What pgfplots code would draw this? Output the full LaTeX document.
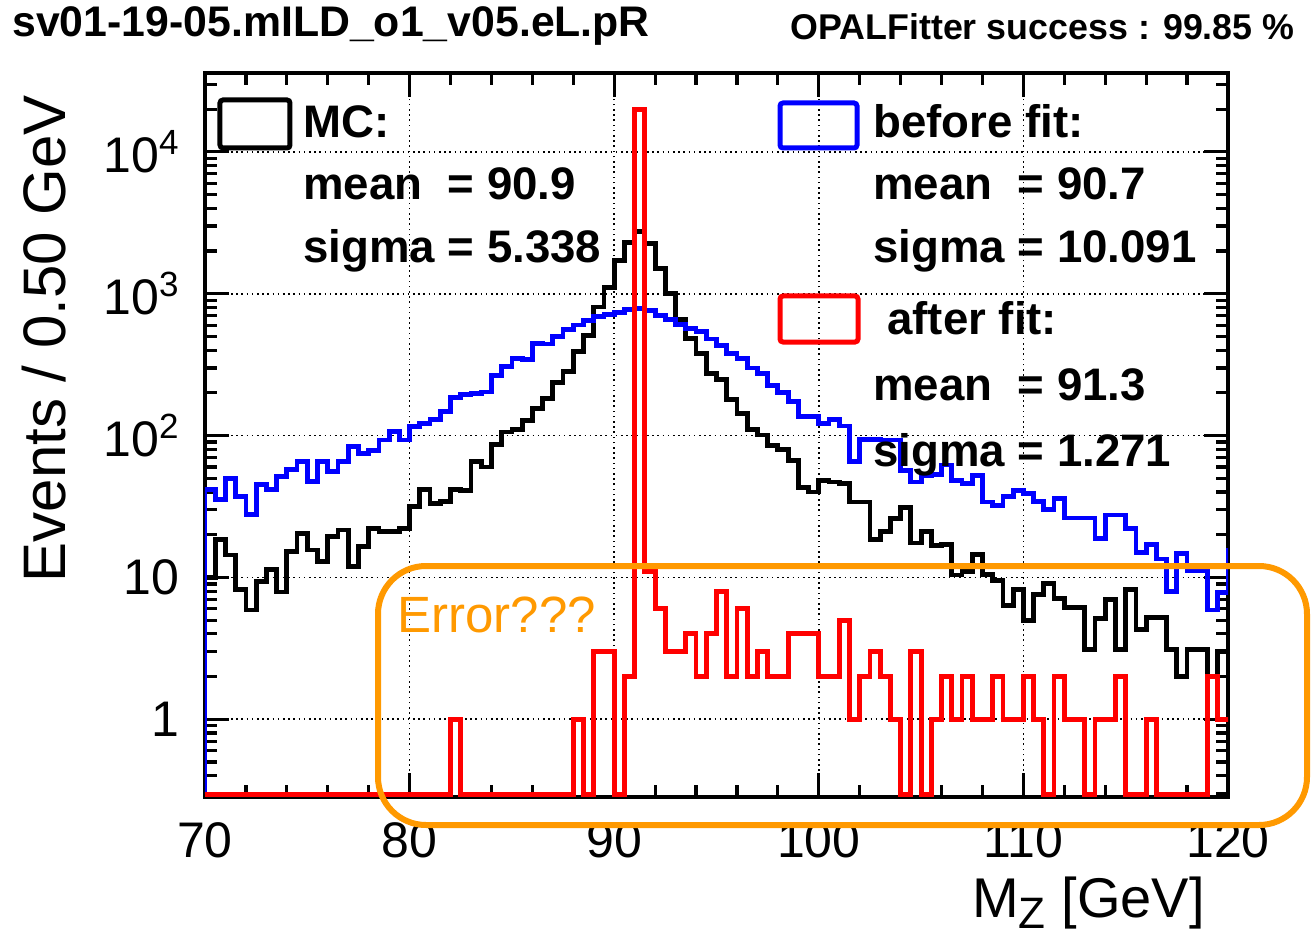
\documentclass[border=0pt]{standalone}
\usepackage{fontspec}
\setmainfont{Liberation Sans}
\usepackage{pgfplots}
\usepackage{pgfplotstable}
\pgfplotsset{compat=1.18}

\definecolor{rootblue}{RGB}{0,0,255}
\definecolor{rootred}{RGB}{255,0,0}
\definecolor{erroro}{RGB}{255,153,0}

% bin left edges (0.5 GeV bins), MC / before fit / after fit
% empty bins are put at 0.295 so that they lie on the lower frame
\pgfplotstableread{
x     mc     bf     af
70    0.295  0.295  0.295
70    10     41.4   0.295
70.5  18.4   35.2   0.295
71    14.4   50     0.295
71.5  8.2    37.2   0.295
72    5.9    27.6   0.295
72.5  9.3    44.9   0.295
73    11.3   41.4   0.295
73.5  7.9    51.4   0.295
74    15.2   57.3   0.295
74.5  20.5   65.6   0.295
75    15.6   47.4   0.295
75.5  12.9   65.6   0.295
76    19.4   55.7   0.295
76.5  21.6   65.6   0.295
77    11.9   83.6   0.295
77.5  16.5   75     0.295
78    22.2   79     0.295
78.5  21     93     0.295
79    21     107    0.295
79.5  22     93     0.295
80    31.6   116    0.295
80.5  41.4   122    0.295
81    33.4   129    0.295
81.5  34.3   147    0.295
82    41.4   186    1
82.5  41     194    0.295
83    66     198    0.295
83.5  60     203    0.295
84    87     265    0.295
84.5  106    305    0.295
85    110    350    0.295
85.5  127    345    0.295
86    156    448    0.295
86.5  182    442    0.295
87    237    500    0.295
87.5  282    556    0.295
88    390    602    1
88.5  506    650    0.295
89    806    692    3
89.5  1100   714    3
90    1724   738    0.295
90.5  2310   771    2
91    2745   782    19800
91.5  2275   758    11
92    1515   702    6
92.5  1010   660    3
93    655    610    3
93.5  486    572    4
94    381    540    2
94.5  275    480    4
95    247    430    8
95.5  179    380    2
96    144    351    6
96.5  110    300    2
97    101    275    3
97.5  85     225    2
98    80     202    2
98.5  67     174    4
99    43     136    4
99.5  40     136    4
100   48     122    2
100.5 47     129    2
101   46     117    5
101.5 34     66     1
102   34     94     2
102.5 18.5   94     3
103   21     93     2
103.5 26     93     1
104   31     57     0.295
104.5 17.5   47     3
105   21     52     0.295
105.5 16.8   53     1
106   17     62     2
106.5 10.4   48.5   1
107   11     46     2
107.5 14.5   52     1
108   10.5   34     1
108.5 9.5    32     2
109   6.3    37.2   1
109.5 8.2    41     1
110   5.0    39     2
110.5 7.6    34.4   1
111   9.1    30     0.295
111.5 7.1    36.2   2
112   6.1    26.2   1
112.5 6.1    26.2   1
113   3.1    26.2   0.295
113.5 5.1    18.9   1
114   7.0    27.5   1
114.5 3.1    27.5   2
115   8.2    22     0.295
115.5 4.3    15     0.295
116   5.2    17     1
116.5 5.2    13.5   0.295
117   3.1    8.0    0.295
117.5 2.0    14.8   0.295
118   3.1    11.1   0.295
118.5 3.1    11.1   0.295
119   2.0    5.9    2
119.5 3.0    7.8    1
120   3.0    15.6   1
120.5 3.0    15.6   1
}\histos

\newcommand\legfont{\fontsize{22.8}{26}\selectfont\bfseries}

\begin{document}
\begin{tikzpicture}
\useasboundingbox (-102.5pt,-71pt) rectangle (554pt,398.5pt);
\begin{axis}[
    at={(0,0)}, anchor=south west,
    scale only axis,
    width=511.5pt, height=362pt,
    xmin=70, xmax=120,
    ymode=log, ymin=0.283, ymax=36000,
    xtick={70,80,...,120},
    minor x tick num=4,
    ytick={1,10,100,1000,10000},
    yticklabels={1,10,10\textsuperscript{2},10\textsuperscript{3},10\textsuperscript{4}},
    minor ytick={0.3,0.4,0.5,0.6,0.7,0.8,0.9,2,3,4,5,6,7,8,9,20,30,40,50,60,70,80,90,200,300,400,500,600,700,800,900,2000,3000,4000,5000,6000,7000,8000,9000,20000,30000},
    tick pos=both,
    tick align=inside,
    major tick length=12pt,
    minor tick length=6pt,
    tick style={black, line width=1.6pt},
    axis line style={line width=2pt},
    grid=major,
    major grid style={black, line width=0.8pt, dash pattern=on 0.8pt off 1.8pt},
    /pgf/number format/assume math mode=true,
    ticklabel style={font=\fontsize{25}{25}\selectfont},
    xticklabel style={anchor=north, inner sep=0pt, yshift=-12.5pt},
    yticklabel style={anchor=east, inner sep=0pt, xshift=-12.5pt},
    every axis plot/.append style={const plot mark left, mark=none, line width=2.4pt, line join=miter},
]
\addplot[black]     table[x=x, y=mc] {\histos};
\addplot[rootblue]  table[x=x, y=bf] {\histos};
\addplot[rootred]   table[x=x, y=af] {\histos};
\end{axis}

% titles
\node[anchor=base west, inner sep=0pt, font=\fontsize{21.4}{24}\selectfont\bfseries] at (-96.5pt,380pt) {sv01-19-05.mILD\_o1\_v05.eL.pR};
\node[anchor=base east, inner sep=0pt, font=\fontsize{17.9}{20}\selectfont\bfseries] at (545pt,378.5pt) {OPALFitter success : 99.85 \%};
\node[anchor=base east, inner sep=0pt, rotate=90, font=\fontsize{30}{30}\selectfont] at (-69.5pt,351pt) {Events / 0.50 GeV};
\node[anchor=base east, inner sep=0pt, font=\fontsize{28}{28}\selectfont] at (500pt,-60pt) {M\raisebox{-0.2em}{\fontsize{22}{22}\selectfont Z} [GeV]};

% legend
\draw[black, line width=2.5pt, rounded corners=1.5pt] (7.5pt,324.5pt) rectangle (42.5pt,348.5pt);
\node[anchor=base west, inner sep=0pt, font=\legfont] at (49pt,329.5pt) {MC:};
\node[anchor=base west, inner sep=0pt, font=\legfont] at (49pt,298.5pt) {mean~~= 90.9};
\node[anchor=base west, inner sep=0pt, font=\legfont] at (49pt,267pt) {sigma = 5.338};

\draw[rootblue, line width=2.5pt, rounded corners=1.5pt] (287.5pt,324.5pt) rectangle (326pt,347pt);
\node[anchor=base west, inner sep=0pt, font=\legfont] at (334pt,329.5pt) {before fit:};
\node[anchor=base west, inner sep=0pt, font=\legfont] at (334pt,298.5pt) {mean~~= 90.7};
\node[anchor=base west, inner sep=0pt, font=\legfont] at (334pt,267pt) {sigma = 10.091};

\draw[rootred, line width=2.5pt, rounded corners=1.5pt] (287.5pt,227.5pt) rectangle (326.5pt,250.5pt);
\node[anchor=base west, inner sep=0pt, font=\legfont] at (341pt,231.5pt) {after fit:};
\node[anchor=base west, inner sep=0pt, font=\legfont] at (334pt,198.5pt) {mean~~= 91.3};
\node[anchor=base west, inner sep=0pt, font=\legfont] at (334pt,165.5pt) {sigma = 1.271};

% annotation
\draw[erroro, line width=3pt, rounded corners=24pt] (86.5pt,-14pt) rectangle (551pt,115.5pt);
\node[anchor=base west, inner sep=0pt, text=erroro, font=\fontsize{25.5}{27}\selectfont] at (96pt,82.5pt) {Error???};
\end{tikzpicture}
\end{document}
